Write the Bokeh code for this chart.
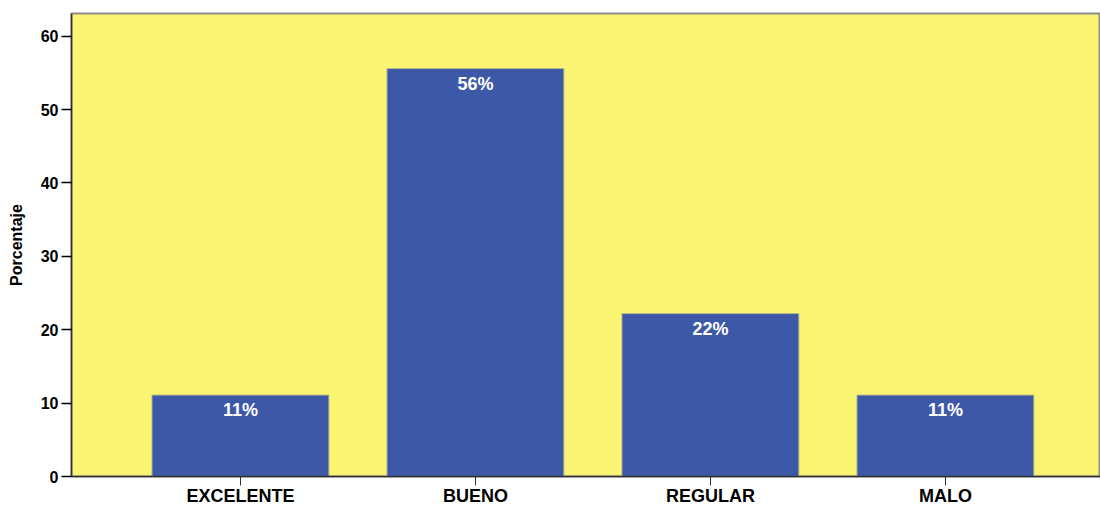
from bokeh.plotting import figure
from bokeh.models import Range1d, FixedTicker, ColumnDataSource
from bokeh.core.properties import value
from bokeh.embed import file_html
from bokeh.resources import INLINE

categories = ["EXCELENTE", "BUENO", "REGULAR", "MALO"]
percentages = [11.1, 55.6, 22.2, 11.1]
labels = ["11%", "56%", "22%", "11%"]
y_ticks = [0, 10, 20, 30, 40, 50, 60]

FONT = "Liberation Sans"
xs = list(range(len(categories)))
src = ColumnDataSource(dict(x=xs, top=percentages, lab=labels))

p = figure(width=1100, height=508, output_backend="svg", toolbar_location=None,
           x_range=Range1d(-0.719, 3.66), y_range=Range1d(0, 63.1),
           min_border_left=71, min_border_top=13, min_border_bottom=31, min_border_right=0)

p.background_fill_color = "#FAF573"
p.border_fill_color = "white"
p.outline_line_color = "#8c8c8c"
p.outline_line_width = 2
p.xgrid.visible = False
p.ygrid.visible = False

p.vbar(x="x", top="top", bottom=0, width=0.753, source=src,
       fill_color="#3E58A8", line_color="#B8B88A", line_width=1)
p.text(x="x", y="top", text="lab", source=src, text_align="center",
       text_baseline="top", y_offset=5, text_color="white",
       text_font=value(FONT), text_font_style="bold", text_font_size="18px")

xa = p.xaxis[0]
xa.ticker = FixedTicker(ticks=xs)
xa.major_label_overrides = {i: c for i, c in enumerate(categories)}
xa.minor_tick_line_color = None
xa.major_tick_in = 0
xa.major_tick_out = 9
xa.major_tick_line_color = "#333333"
xa.axis_line_color = "#333333"
xa.axis_line_width = 1.5
xa.major_label_text_font = FONT
xa.major_label_text_font_style = "bold"
xa.major_label_text_font_size = "18px"
xa.major_label_text_color = "black"
xa.major_label_standoff = 0

ya = p.yaxis[0]
ya.ticker = FixedTicker(ticks=y_ticks)
ya.minor_tick_line_color = None
ya.major_tick_in = 0
ya.major_tick_out = 10
ya.major_tick_line_color = "black"
ya.major_tick_line_width = 1.5
ya.axis_line_color = "#333333"
ya.axis_line_width = 1.5
ya.major_label_text_font = FONT
ya.major_label_text_font_style = "bold"
ya.major_label_text_font_size = "16px"
ya.major_label_text_color = "black"
ya.major_label_standoff = 3
ya.axis_label = "Porcentaje"
ya.axis_label_text_font = FONT
ya.axis_label_text_font_style = "bold"
ya.axis_label_text_font_size = "16px"
ya.axis_label_text_color = "black"
ya.axis_label_standoff = 13

open("out.html", "w").write(file_html(p, INLINE))
